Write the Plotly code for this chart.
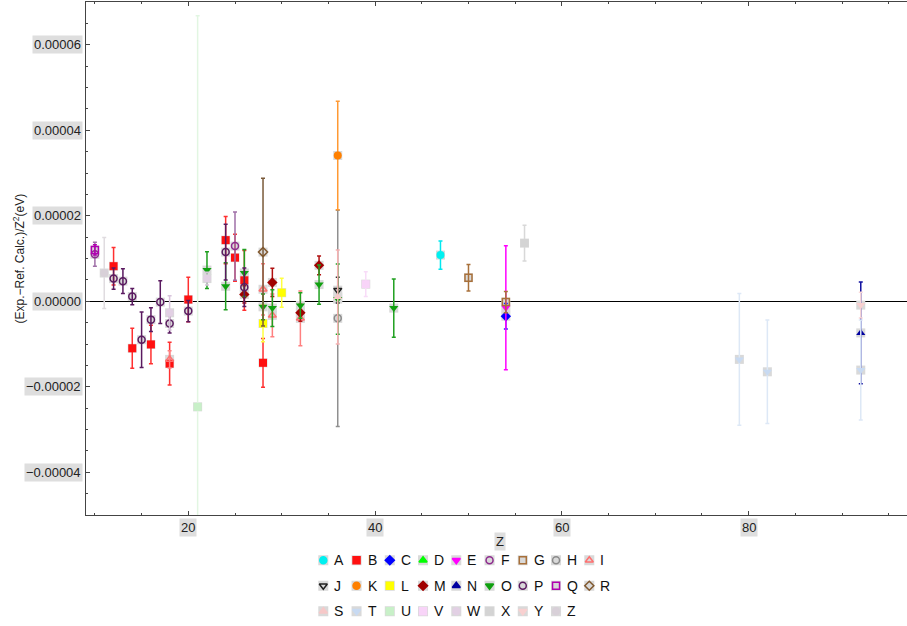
import plotly.graph_objects as go

SCALE = 1e-5  # values below are in units of 1e-5 eV

SERIES = list("ABCDEFGHIJKLMNOPQRSTUVWXYZ")

z_A = [47]; y_A = [1.08]; e_A = [0.33]
z_B = [12, 14, 16, 18, 20, 24, 25, 26, 28]
y_B = [0.82, -1.10, -1.01, -1.46, 0.04, 1.43, 1.02, 0.49, -1.44]
e_B = [0.44, 0.47, 0.45, 0.50, 0.52, 0.55, 0.55, 0.70, 0.57]
z_C = [54]; y_C = [-0.35]; e_C = [0.30]
z_D = []; y_D = []; e_D = []
z_E = [54]; y_E = [-0.15]; e_E = [1.45]
z_F = [10, 25]; y_F = [1.10, 1.29]; e_F = [0.28, 0.80]
z_G = [50, 54]; y_G = [0.55, -0.02]; e_G = [0.31, 0.25]
z_H = [36]; y_H = [-0.40]; e_H = [2.53]
z_I = [18, 28, 29, 32]; y_I = [-1.36, 0.28, -0.33, -0.40]; e_I = [0.20, 0.60, 0.50, 0.64]
z_J = [36]; y_J = [0.26]; e_J = [0.30]
z_K = [36]; y_K = [3.41]; e_K = [1.27]
z_L = [28, 30]; y_L = [-0.52, 0.20]; e_L = [0.43, 0.34]
z_M = [26, 29, 32, 34]; y_M = [0.16, 0.44, -0.27, 0.84]; e_M = [0.20, 0.33, 0.20, 0.22]
z_N = [92]; y_N = [-0.74]; e_N = [1.19]
z_O = [22, 24, 26, 28, 29, 32, 34, 36, 42]
y_O = [0.73, 0.35, 0.66, -0.13, -0.16, -0.10, 0.39, 0.05, -0.16]
e_O = [0.43, 0.55, 0.55, 0.30, 0.43, 0.30, 0.46, 0.82, 0.68]
z_P = [12, 13, 14, 15, 16, 17, 18, 20, 24, 26]
y_P = [0.53, 0.47, 0.11, -0.90, -0.43, -0.02, -0.52, -0.23, 1.15, 0.33]
e_P = [0.25, 0.29, 0.19, 0.65, 0.28, 0.50, 0.22, 0.25, 0.65, 0.45]
z_Q = [10]; y_Q = [1.20]; e_Q = [0.12]
z_R = [28]; y_R = [1.15]; e_R = [1.73]
z_S = [36]; y_S = [0.10]; e_S = [1.10]
z_T = [79, 82, 92]; y_T = [-1.36, -1.65, -1.61]; e_T = [1.54, 1.21, 1.17]
z_U = [21]; y_U = [-2.47]; e_U = [9.15]
z_V = [39]; y_V = [0.40]; e_V = [0.29]
z_W = [18, 22]; y_W = [-0.27, 0.53]; e_W = [0.40, 0.15]
z_X = [56]; y_X = [1.36]; e_X = [0.42]
z_Y = [92]; y_Y = [-0.09]; e_Y = [0.30]
z_Z = [11]; y_Z = [0.66]; e_Z = [0.83]

Y_TICKS = [-4e-5, -2e-5, 0, 2e-5, 4e-5, 6e-5]
Y_TICK_LABELS = ["\u22120.00004", "\u22120.00002", "0.00000", "0.00002", "0.00004", "0.00006"]
X_TICKS = [20, 40, 60, 80]
X_TICK_LABELS = ["20", "40", "60", "80"]

DATA = {s: (globals()["z_" + s], globals()["y_" + s], globals()["e_" + s]) for s in SERIES}

# styles: (symbol, marker colour, error-bar colour)
STYLE = {
    "A": ("circle", "#00f0f0", "#00e8f0"),
    "B": ("square", "#ff1010", "#ff3030"),
    "C": ("diamond", "#0000ff", "#2020ff"),
    "D": ("triangle-up", "#00ff00", "#00ff00"),
    "E": ("triangle-down", "#ff00ff", "#ff00ff"),
    "F": ("circle-open", "#8e2a8e", "#a070a8"),
    "G": ("square-open", "#a8703a", "#a8703a"),
    "H": ("circle-open", "#8a8a8a", "#8f8f8f"),
    "I": ("triangle-up-open", "#ff7070", "#ff8080"),
    "J": ("triangle-down-open", "#202020", "#303030"),
    "K": ("circle", "#ff8000", "#ff9933"),
    "L": ("square", "#ffff00", "#ffff40"),
    "M": ("diamond", "#a00000", "#b01010"),
    "N": ("triangle-up", "#0000a0", "#1010a0"),
    "O": ("triangle-down", "#10a010", "#20a020"),
    "P": ("circle-open", "#5a1a60", "#5a1a60"),
    "Q": ("square-open", "#b000b0", "#b000b0"),
    "R": ("diamond-open", "#80582e", "#7a5a3a"),
    "S": ("triangle-up", "#f6c8c8", "#f4b0b0"),
    "T": ("triangle-down", "#c8daf2", "#dde8f6"),
    "U": ("square", "#c8f0c8", "#e2f6e2"),
    "V": ("square", "#f8d4f8", "#f8dcf8"),
    "W": ("circle", "#e2d0e4", "#d8c4dc"),
    "X": ("square", "#d4d4d4", "#d8d8d8"),
    "Y": ("triangle-down", "#f8d0d0", "#f8d8d8"),
    "Z": ("circle", "#d8d0d8", "#e0dce0"),
}

FONT = "Liberation Sans, Arial, sans-serif"
BOX = "#d9d9d9"

fig = go.Figure()

# grey backing squares behind every data marker
all_z, all_y = [], []
for s in SERIES:
    zz, yy, _ = DATA[s]
    all_z += zz
    all_y += [v * SCALE for v in yy]
fig.add_trace(go.Scatter(x=all_z, y=all_y, mode="markers", hoverinfo="skip",
                         marker=dict(symbol="square", size=9, color=BOX),
                         showlegend=False))

for s in SERIES:
    zz, yy, ee = DATA[s]
    sym, col, ecol = STYLE[s]
    is_open = sym.endswith("-open")
    fig.add_trace(go.Scatter(
        x=zz, y=[v * SCALE for v in yy], name=s, mode="markers",
        error_y=dict(type="data", array=[v * SCALE for v in ee], visible=True,
                     color=ecol, thickness=1.5, width=2),
        marker=dict(symbol=sym, size=7 if is_open else 8, color=col,
                    line=dict(width=1.5 if is_open else 0, color=col)),
        showlegend=False,
    ))

# hand-built legend (3 rows x 9 columns) on a helper axis pair
N_COLS = 9
leg_x = [i % N_COLS for i in range(len(SERIES))]
leg_y = [-(i // N_COLS) for i in range(len(SERIES))]
fig.add_trace(go.Scatter(x=leg_x, y=leg_y, xaxis="x2", yaxis="y2", mode="markers",
                         hoverinfo="skip", showlegend=False,
                         marker=dict(symbol="square", size=10, color=BOX)))
fig.add_trace(go.Scatter(
    x=leg_x, y=leg_y, xaxis="x2", yaxis="y2", mode="markers", hoverinfo="skip",
    showlegend=False,
    marker=dict(symbol=[STYLE[s][0] for s in SERIES], size=7,
                color=[STYLE[s][1] for s in SERIES],
                line=dict(width=1.5, color=[STYLE[s][1] for s in SERIES]))))

annotations = []
for s, lx, ly in zip(SERIES, leg_x, leg_y):
    annotations.append(dict(text=s, x=lx + 0.27, y=ly, xref="x2", yref="y2",
                            xanchor="left", yanchor="middle", showarrow=False,
                            font=dict(size=14, color="#111", family=FONT)))

W, H, L, B, T = 907, 626, 86, 0, 2
plot_h = H - T - B
def py(p):  # pixel row -> paper y
    return (H - B - p) / plot_h
def px(p):  # pixel column -> paper x
    return (p - L) / (W - L)

for v, t in zip(Y_TICKS, Y_TICK_LABELS):
    annotations.append(dict(text=t, x=px(83), xref="paper", y=v, yref="y",
                            xanchor="right", yanchor="middle", showarrow=False,
                            bgcolor="#dedede", borderpad=1,
                            font=dict(size=13, color="#222", family=FONT)))
for v, t in zip(X_TICKS, X_TICK_LABELS):
    annotations.append(dict(text=t, x=v, xref="x", y=py(527), yref="paper",
                            xanchor="center", yanchor="middle", showarrow=False,
                            bgcolor="#dedede", borderpad=1,
                            font=dict(size=13, color="#222", family=FONT)))
annotations.append(dict(text="Z", x=px(500), xref="paper", y=py(541), yref="paper",
                        xanchor="center", yanchor="middle", showarrow=False,
                        bgcolor="#dedede", borderpad=1,
                        font=dict(size=13, color="#222", family=FONT)))
annotations.append(dict(text="(Exp.\u2212Ref. Calc.)/Z<sup>2</sup>(eV)", x=px(18), xref="paper",
                        y=py(258.5), yref="paper", textangle=-90,
                        xanchor="center", yanchor="middle", showarrow=False,
                        font=dict(size=12, color="#222", family=FONT)))

AX = "#444"
fig.update_layout(
    width=W, height=H,
    margin=dict(l=L, r=0, t=T, b=B, autoexpand=False),
    paper_bgcolor="white", plot_bgcolor="white",
    showlegend=False,
    font=dict(family=FONT, size=13, color="#222"),
    xaxis=dict(domain=[0, 1], range=[9.047, 96.95], anchor="y",
               showline=True, linecolor=AX, linewidth=1, mirror="ticks",
               ticks="inside", ticklen=4, tickcolor=AX, tick0=0, dtick=20,
               showticklabels=False, showgrid=False, zeroline=False,
               minor=dict(ticks="inside", ticklen=2, tickcolor=AX, dtick=5, tick0=0, showgrid=False)),
    yaxis=dict(domain=[py(515), 1], range=[-5e-5, 7e-5], anchor="x",
               showline=True, linecolor=AX, linewidth=1, mirror=False,
               ticks="inside", ticklen=4, tickcolor=AX, tick0=0, dtick=2e-5,
               showticklabels=False, showgrid=False,
               zeroline=True, zerolinecolor="black", zerolinewidth=1.3,
               minor=dict(ticks="inside", ticklen=2, tickcolor=AX, dtick=0.5e-5, tick0=0, showgrid=False)),
    xaxis2=dict(domain=[px(323.3 - 0.5 * 33.25), px(323.3 + 8.5 * 33.25)], range=[-0.5, 8.5],
                anchor="y2", visible=False, fixedrange=True),
    yaxis2=dict(domain=[py(624), py(547.5)], range=[-2.5, 0.5], anchor="x2",
                visible=False, fixedrange=True),
    annotations=annotations,
)

fig.write_html("out.html", config={"displayModeBar": False},
               post_script="document.body.style.margin='0';")
